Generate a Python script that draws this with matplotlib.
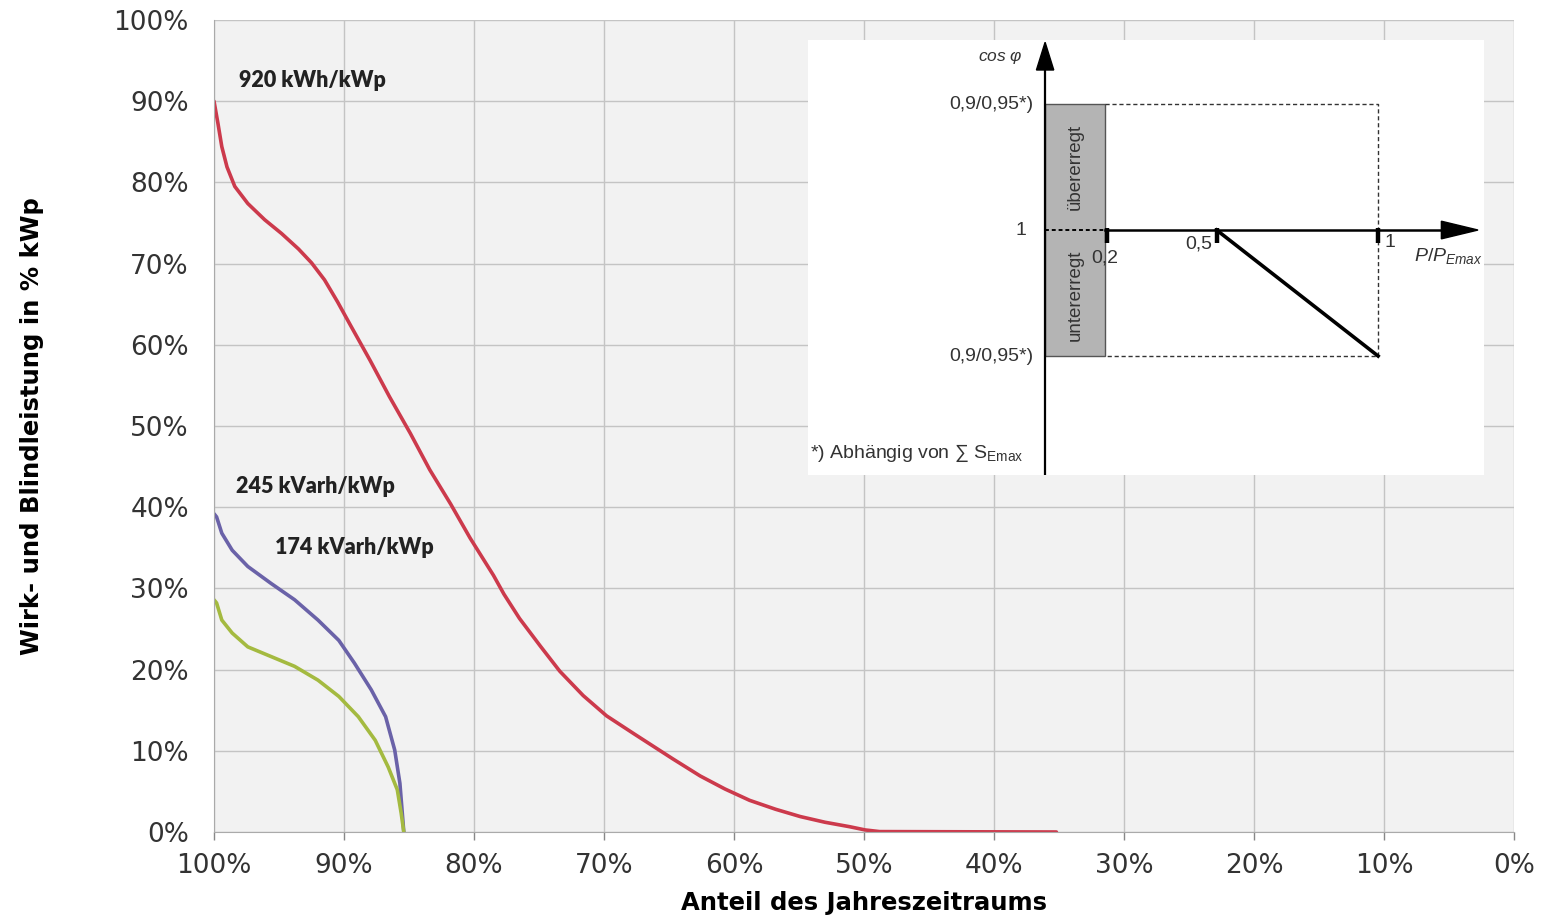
import matplotlib
matplotlib.use('Agg')
import matplotlib.pyplot as plt
from matplotlib.patches import Rectangle, Polygon

plt.rcParams['mathtext.fontset'] = 'custom'
plt.rcParams['mathtext.rm'] = 'Liberation Sans'
plt.rcParams['mathtext.it'] = 'Liberation Sans:italic'

# duration curves, x = share of the year (%), y = power in % of kWp
wirk_x = [100, 99.7, 99.4, 99.0, 98.4, 97.4, 96.1, 94.8, 93.5, 92.5, 91.5, 90.5,
          89.5, 88.0, 86.5, 84.9, 83.4, 81.8, 80.3, 78.5, 77.7, 76.5, 74.9, 73.4,
          71.6, 69.8, 67.7, 64.7, 62.6, 60.7, 58.8, 56.8, 54.9, 53.0, 51.1, 49.9,
          48.8, 35.2]
wirk_y = [90.0, 87.3, 84.4, 81.9, 79.5, 77.4, 75.4, 73.7, 71.8, 70.1, 68.0, 65.3,
          62.4, 58.1, 53.6, 49.1, 44.6, 40.4, 36.2, 31.6, 29.3, 26.3, 22.9, 19.8,
          16.8, 14.3, 12.1, 9.0, 6.9, 5.3, 3.9, 2.8, 1.9, 1.2, 0.65, 0.25,
          0.05, 0.0]

blind1_x = [100, 99.8, 99.4, 98.6, 97.4, 95.6, 93.8, 92.0, 90.4, 89.2, 87.9, 86.8,
            86.1, 85.7, 85.4]
blind1_y = [39.2, 38.8, 36.8, 34.7, 32.7, 30.6, 28.6, 26.1, 23.6, 20.8, 17.5, 14.2,
            10.1, 6.0, 0.0]

blind2_x = [100, 99.8, 99.4, 98.6, 97.4, 95.6, 93.8, 92.0, 90.4, 88.9, 87.6, 86.6,
            85.9, 85.6, 85.4]
blind2_y = [28.6, 28.2, 26.1, 24.5, 22.8, 21.6, 20.4, 18.7, 16.7, 14.2, 11.3, 8.0,
            5.2, 2.3, 0.0]

labels = ['920 kWh/kWp', '245 kVarh/kWp', '174 kVarh/kWp']
ticks = list(range(0, 101, 10))

fig = plt.figure(figsize=(15.45, 9.17), dpi=100)
ax = fig.add_axes([214 / 1545, 85 / 917, 1300 / 1545, 812 / 917])
ax.set_facecolor('#f2f2f2')

kw = dict(lw=2.6, solid_joinstyle='round', solid_capstyle='round')
ax.plot(wirk_x, wirk_y, color='#cc3a4c', **kw)
ax.plot(blind1_x, blind1_y, color='#6a62a8', **kw)
ax.plot(blind2_x, blind2_y, color='#a4ba40', **kw)

ax.set_xlim(100, 0)
ax.set_ylim(0, 100)
ax.set_xticks(ticks)
ax.set_yticks(ticks)
ax.set_xticklabels([f'{t}%' for t in ticks], fontsize=19, color='#333333')
ax.set_yticklabels([f'{t}%' for t in ticks], fontsize=19, color='#333333')
ax.tick_params(axis='x', length=6, width=1, color='#888888', pad=9)
ax.tick_params(axis='y', length=0, pad=18)
ax.grid(True, color='#c4c4c4', lw=1)
ax.set_axisbelow(True)
for side in ['top', 'right']:
    ax.spines[side].set_visible(False)
for side in ['left', 'bottom']:
    ax.spines[side].set_color('#aaaaaa')

ax.set_xlabel('Anteil des Jahreszeitraums', fontsize=17.5, fontweight='bold', labelpad=9)
ax.set_ylabel('Wirk- und Blindleistung in % kWp', fontsize=17.5, fontweight='bold', labelpad=50)

for txt, (tx, ty) in zip(labels, [(98.1, 92.5), (98.3, 42.5), (95.3, 35.0)]):
    ax.text(tx, ty, txt, fontsize=15.5, fontweight='heavy', family='Lato',
            color='#222222', va='center', ha='left')

# inset: cos phi characteristic over P/P_Emax
ins = fig.add_axes([808 / 1545, 442 / 917, 676 / 1545, 435 / 917])
ins.set_xlim(-0.712, 1.318)
ins.set_ylim(-1.944, 1.508)
ins.set_facecolor('white')
ins.set_xticks([])
ins.set_yticks([])
for s in ins.spines.values():
    s.set_visible(False)

ins.add_patch(Rectangle((0, -1), 0.18, 2, facecolor='#b4b4b4', edgecolor='#555555', lw=1))
ins.plot([0.18, 1, 1, 0.18], [1, 1, -1, -1], color='#333333', lw=1, ls=(0, (3, 2)))
ins.plot([0, 0], [-1.944, 1.28], color='black', lw=1.6)
ins.plot([0, 0.18], [0, 0], color='black', lw=1.4, ls=(0, (2, 1.5)))
ins.plot([0.18, 1.2], [0, 0], color='black', lw=1.8)
ins.add_patch(Polygon([[-0.026, 1.27], [0.026, 1.27], [0, 1.49]], color='black'))
ins.add_patch(Polygon([[1.19, 0.07], [1.19, -0.07], [1.30, 0]], color='black'))
for px in [0.185, 0.515, 1.0]:
    ins.plot([px, px], [0.02, -0.1], color='black', lw=3.2, solid_capstyle='butt')
ins.plot([0.515, 1.0], [0, -1], color='black', lw=2.6)

tc = '#333333'
ins.text(-0.135, 1.37, r'$\it{cos}\ \varphi$', fontsize=12.5, color=tc, ha='center', va='center')
ins.text(-0.035, 1, '0,9/0,95*)', fontsize=14, color=tc, ha='right', va='center')
ins.text(-0.035, -1, '0,9/0,95*)', fontsize=14, color=tc, ha='right', va='center')
ins.text(-0.055, 0, '1', fontsize=14, color=tc, ha='right', va='center')
ins.text(0.18, -0.22, '0,2', fontsize=14, color=tc, ha='center', va='center')
ins.text(0.46, -0.11, '0,5', fontsize=14, color=tc, ha='center', va='center')
ins.text(1.036, -0.1, '1', fontsize=14, color=tc, ha='center', va='center')
ins.text(1.21, -0.21, r'$\it{P/P}_{\it{Emax}}$', fontsize=14, color=tc, ha='center', va='center')
ins.text(0.09, 0.5, 'übererregt', fontsize=13.5, color=tc, ha='center', va='center',
         rotation=90, family='Liberation Sans')
ins.text(0.09, -0.52, 'untererregt', fontsize=13.5, color=tc, ha='center', va='center',
         rotation=90, family='Liberation Sans')
ins.text(-0.705, -1.77, '*) Abhängig von ∑ $\\mathregular{S_{Emax}}$', fontsize=14, color=tc,
         ha='left', va='center', family=['Liberation Sans', 'DejaVu Sans'])
for t in ins.texts[:8]:
    t.set_family('Liberation Sans')

fig.savefig('out.png', dpi=100)
